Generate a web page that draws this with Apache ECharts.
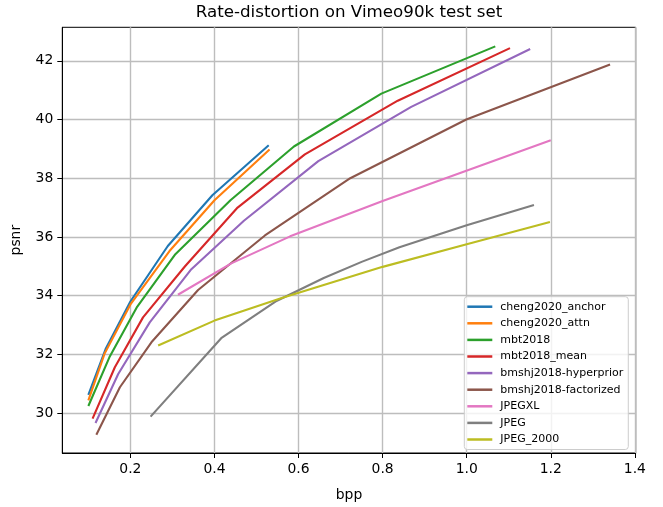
<!DOCTYPE html>
<html>
<head>
<meta charset="utf-8">
<script src="https://cdn.jsdelivr.net/npm/echarts@6/dist/echarts.min.js"></script>
<style>
  html, body { margin: 0; padding: 0; background: #fff; }
  #chart { width: 663px; height: 507px; }
</style>
</head>
<body>
<div id="chart"></div>
<script>
// values
const names = ['cheng2020_anchor', 'cheng2020_attn', 'mbt2018', 'mbt2018_mean',
  'bmshj2018-hyperprior', 'bmshj2018-factorized', 'JPEGXL', 'JPEG', 'JPEG_2000'];
const colors = ['#1f77b4', '#ff7f0e', '#2ca02c', '#d62728', '#9467bd', '#8c564b', '#e377c2', '#7f7f7f', '#bcbd22'];

const bppAnchor = [0.100, 0.141, 0.200, 0.289, 0.395, 0.529];
const psnrAnchor = [30.62, 32.18, 33.80, 35.69, 37.42, 39.12];
const bppAttn = [0.100, 0.139, 0.201, 0.293, 0.400, 0.531];
const psnrAttn = [30.43, 32.04, 33.72, 35.52, 37.25, 38.98];
const bppMbt = [0.100, 0.150, 0.216, 0.307, 0.438, 0.589, 0.797, 1.068];
const psnrMbt = [30.24, 31.90, 33.62, 35.41, 37.25, 39.08, 40.88, 42.49];
const bppMbtMean = [0.110, 0.163, 0.230, 0.330, 0.455, 0.615, 0.836, 1.103];
const psnrMbtMean = [29.81, 31.56, 33.26, 35.00, 37.00, 38.81, 40.64, 42.43];
const bppHyper = [0.117, 0.171, 0.246, 0.345, 0.470, 0.647, 0.868, 1.151];
const psnrHyper = [29.66, 31.33, 33.09, 34.90, 36.55, 38.58, 40.43, 42.40];
const bppFact = [0.119, 0.175, 0.250, 0.361, 0.520, 0.723, 0.999, 1.341];
const psnrFact = [29.26, 30.88, 32.41, 34.19, 36.05, 38.00, 40.00, 41.87];
const bppJxl = [0.313, 0.440, 0.580, 0.800, 1.200];
const psnrJxl = [34.03, 35.10, 36.02, 37.22, 39.29];
const bppJpeg = [0.248, 0.416, 0.545, 0.660, 0.750, 0.840, 1.000, 1.160];
const psnrJpeg = [29.88, 32.55, 33.80, 34.60, 35.15, 35.65, 36.40, 37.09];
const bppJ2k = [0.266, 0.400, 0.560, 0.800, 1.000, 1.198];
const psnrJ2k = [32.30, 33.15, 33.92, 34.98, 35.75, 36.51];

const xTicks = [0.2, 0.4, 0.6, 0.8, 1.0, 1.2, 1.4];
const yTicks = [30, 32, 34, 36, 38, 40, 42];

const curves = [
  [bppAnchor, psnrAnchor], [bppAttn, psnrAttn], [bppMbt, psnrMbt],
  [bppMbtMean, psnrMbtMean], [bppHyper, psnrHyper], [bppFact, psnrFact],
  [bppJxl, psnrJxl], [bppJpeg, psnrJpeg], [bppJ2k, psnrJ2k]
];

const font = 'DejaVu Sans';

const series = curves.map(function (c, i) {
  return {
    name: names[i],
    type: 'line',
    data: c[0].map(function (x, k) { return [x, c[1][k]]; }),
    showSymbol: false,
    symbol: 'none',
    lineStyle: { width: 2.1, color: colors[i] },
    itemStyle: { color: colors[i] },
    animation: false
  };
});

let myChart = echarts.init(document.getElementById('chart'));
myChart.setOption({
  animation: false,
  color: colors,
  title: {
    text: 'Rate-distortion on Vimeo90k test set',
    left: 349, top: 4, textAlign: 'center', padding: 0,
    textStyle: { fontFamily: font, fontSize: 16.7, fontWeight: 'normal', color: '#000' }
  },
  grid: {
    left: 62.3, right: 27.3, top: 27.3, bottom: 52.7,
    show: true, borderColor: '#000', borderWidth: 1, backgroundColor: 'transparent'
  },
  legend: {
    orient: 'vertical',
    left: 464.3, top: 296.7,
    padding: [3, 5, 3, 3],
    itemWidth: 25, itemHeight: 2.5, itemGap: 2.6,
    icon: 'rect',
    backgroundColor: 'rgba(255,255,255,0.8)',
    borderColor: '#cccccc', borderWidth: 1, borderRadius: 3,
    textStyle: { fontFamily: font, fontSize: 11, color: '#000', lineHeight: 14, padding: [0, 0, 0, 3] },
    data: names
  },
  xAxis: {
    type: 'value', min: 0.038, max: 1.402,
    name: 'bpp', nameLocation: 'middle', nameGap: 35,
    nameTextStyle: { fontFamily: font, fontSize: 13.9, color: '#000' },
    axisLine: { show: true, lineStyle: { color: '#000', width: 1 } },
    axisTick: { show: true, length: 5, customValues: xTicks, lineStyle: { color: '#000', width: 1 } },
    axisLabel: {
      customValues: xTicks, margin: 9,
      fontFamily: font, fontSize: 13.9, color: '#000',
      formatter: function (v) { return v.toFixed(1); }
    },
    splitLine: { show: true, lineStyle: { color: '#bdbdbd', width: 1.4 } }
  },
  yAxis: {
    type: 'value', min: 28.64, max: 43.14,
    name: 'psnr', nameLocation: 'middle', nameGap: 39, nameRotate: 90,
    nameTextStyle: { fontFamily: font, fontSize: 13.9, color: '#000' },
    axisLine: { show: true, lineStyle: { color: '#000', width: 1 } },
    axisTick: { show: true, length: 5, customValues: yTicks, lineStyle: { color: '#000', width: 1 } },
    axisLabel: {
      customValues: yTicks, margin: 9,
      fontFamily: font, fontSize: 13.9, color: '#000'
    },
    splitLine: { show: true, lineStyle: { color: '#bdbdbd', width: 1.4 } }
  },
  series: series
});
</script>
</body>
</html>
